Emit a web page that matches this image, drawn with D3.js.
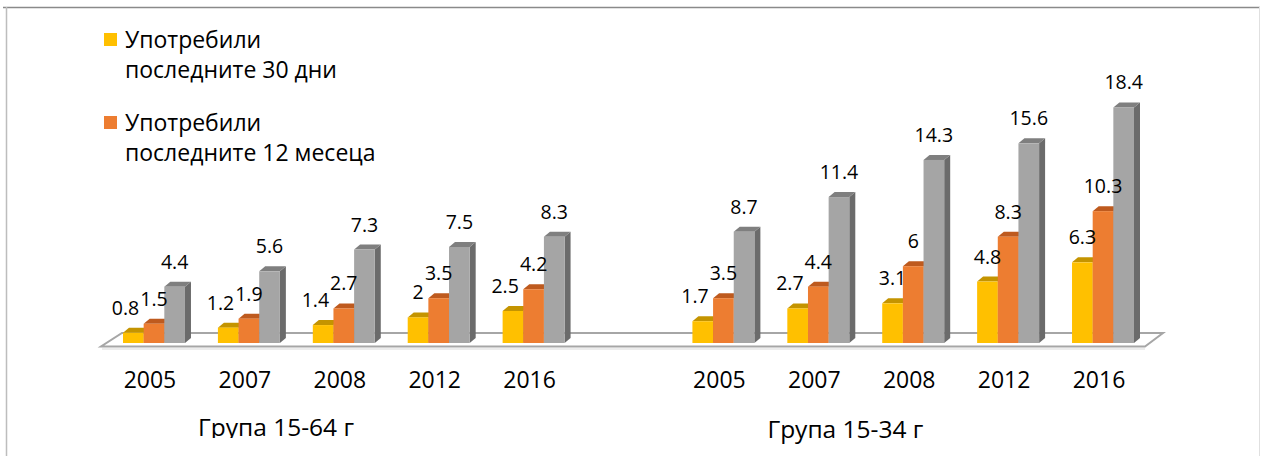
<!DOCTYPE html>
<html>
<head>
<meta charset="utf-8">
<script src="https://cdn.jsdelivr.net/npm/d3@7"></script>
<style>
  body { margin: 0; background: #fff; }
  text { font-family: 'Open Sans', 'Noto Sans', sans-serif; fill: #000; }
</style>
</head>
<body>
<div id="chart"></div>
<script>
// datos
var years = ['2005', '2007', '2008', '2012', '2016']
var groups = ['Група 15-64 г', 'Група 15-34 г']
var seriesNames = [
  ['Употребили', 'последните 30 дни'],
  ['Употребили', 'последните 12 месеца'],
  ['Употребили', 'някога'],
]
var last30days_1564 = [0.8, 1.2, 1.4, 2, 2.5]
var last12months_1564 = [1.5, 1.9, 2.7, 3.5, 4.2]
var lifetime_1564 = [4.4, 5.6, 7.3, 7.5, 8.3]
var last30days_1534 = [1.7, 2.7, 3.1, 4.8, 6.3]
var last12months_1534 = [3.5, 4.4, 6, 8.3, 10.3]
var lifetime_1534 = [8.7, 11.4, 14.3, 15.6, 18.4]

var colors = ['#FFC000', '#ED7D31', '#A5A5A5']
var topColors = ['#C49400', '#BE5A1E', '#7F7F7F']
var sideColors = ['#B38700', '#A84F1A', '#6B6B6B']

var width = 1261
var height = 456
var depthX = 6 // profundidad 3D
var depthY = 5

var svg = d3
  .select('#chart')
  .append('svg')
  .attr('width', width)
  .attr('height', height)

svg.append('rect').attr('width', width).attr('height', height).attr('fill', '#fff')

// marco
svg.append('line').attr('x1', 3).attr('x2', 1260).attr('y1', 7.5).attr('y2', 7.5)
  .attr('stroke', '#8a8a8a').attr('stroke-width', 1.5)
svg.append('line').attr('x1', 6.5).attr('x2', 6.5).attr('y1', 7).attr('y2', height)
  .attr('stroke', '#bdbdbd').attr('stroke-width', 1.5)
svg.append('line').attr('x1', 1259.5).attr('x2', 1259.5).attr('y1', 7).attr('y2', height)
  .attr('stroke', '#e0e0e0').attr('stroke-width', 1)

// tabla de barras
var rows = []
var seriesByGroup = [
  [last30days_1564, last12months_1564, lifetime_1564],
  [last30days_1534, last12months_1534, lifetime_1534],
]
var slots = []
groups.forEach(function (g, gi) {
  years.forEach(function (y, yi) {
    var key = gi + '-' + y
    slots.push(key)
    seriesByGroup[gi].forEach(function (vals, si) {
      rows.push({ key: key, year: y, group: gi, serie: si, value: vals[yi] })
    })
  })
  if (gi == 0) slots.push('hueco')
})

var x = d3
  .scaleBand()
  .domain(slots)
  .range([123, 1134])
  .paddingInner(0.347)
  .paddingOuter(0)

var xs = d3.scaleBand().domain([0, 1, 2]).range([0, x.bandwidth()])

var y = d3.scaleLinear().domain([0, 20]).range([343, 87])

// suelo
var floor = svg.append('g')
floor
  .append('path')
  .attr('d', 'M101,346.5 L1145,346.5 L1163,333 L122,333 Z')
  .attr('fill', '#fff')
  .attr('stroke', '#a6a6a6')
  .attr('stroke-width', 2)
floor
  .append('line')
  .attr('x1', 102).attr('x2', 1145).attr('y1', 349).attr('y2', 349)
  .attr('stroke', '#d9d9d9').attr('stroke-width', 1)

// barras 3D
var bars = svg
  .append('g')
  .selectAll('g')
  .data(rows)
  .enter()
  .append('g')

bars
  .append('path')
  .attr('fill', (d) => sideColors[d.serie])
  .attr('d', function (d) {
    var x1 = x(d.key) + xs(d.serie) + xs.bandwidth()
    var y0 = y(0)
    var y1 = y(d.value)
    return 'M' + x1 + ',' + y1 + ' L' + (x1 + depthX) + ',' + (y1 - depthY) +
      ' L' + (x1 + depthX) + ',' + (y0 - depthY) + ' L' + x1 + ',' + y0 + ' Z'
  })

bars
  .append('path')
  .attr('fill', (d) => topColors[d.serie])
  .attr('d', function (d) {
    var x0 = x(d.key) + xs(d.serie)
    var x1 = x0 + xs.bandwidth()
    var y1 = y(d.value)
    return 'M' + x0 + ',' + y1 + ' L' + (x0 + depthX) + ',' + (y1 - depthY) +
      ' L' + (x1 + depthX) + ',' + (y1 - depthY) + ' L' + x1 + ',' + y1 + ' Z'
  })

bars
  .append('rect')
  .attr('fill', (d) => colors[d.serie])
  .attr('x', (d) => x(d.key) + xs(d.serie))
  .attr('y', (d) => y(d.value))
  .attr('width', xs.bandwidth())
  .attr('height', (d) => y(0) - y(d.value))

// etiquetas de valores
var labels = svg
  .append('g')
  .selectAll('text')
  .data(rows)
  .enter()
  .append('text')
  .attr('x', (d) => x(d.key) + xs(d.serie) + xs.bandwidth() / 2)
  .attr('y', (d) => y(d.value) - 18)
  .attr('text-anchor', 'middle')
  .style('font-size', '19.5px')
  .text((d) => d.value)

// evitar que se pisen las etiquetas
labels.each(function (d) {
  d.box = this.getBBox()
})
labels.each(function (d) {
  if (d.serie != 0) return
  var next = rows.find((r) => r.key == d.key && r.serie == 1)
  var overlap = d.box.x + d.box.width + 1 - next.box.x
  if (overlap > 0 && Math.abs(d.box.y - next.box.y) < d.box.height) {
    d3.select(this).attr('x', +d3.select(this).attr('x') - overlap)
  }
})

// eje x: años
svg
  .append('g')
  .selectAll('text')
  .data(slots.filter((s) => s != 'hueco'))
  .enter()
  .append('text')
  .attr('x', (d) => x(d) + x.bandwidth() / 2 - 4)
  .attr('y', 388)
  .attr('text-anchor', 'middle')
  .style('font-size', '23px')
  .text((d) => d.split('-')[1])

// nombres de grupo
svg.append('clipPath').attr('id', 'corte')
  .append('rect').attr('x', 0).attr('y', 0).attr('width', width).attr('height', 438)

svg
  .append('g')
  .selectAll('text')
  .data(groups)
  .enter()
  .append('text')
  .attr('x', function (d, i) {
    var first = x(i + '-' + years[0])
    return first + 153
  })
  .attr('y', (d, i) => (i == 0 ? 435.5 : 437.5))
  .attr('clip-path', (d, i) => (i == 0 ? 'url(#corte)' : null))
  .attr('text-anchor', 'middle')
  .style('font-size', '24.5px')
  .text((d) => d)

// leyenda (solo las dos primeras series)
var legend = svg
  .append('g')
  .selectAll('g')
  .data(seriesNames.slice(0, 2))
  .enter()
  .append('g')
  .attr('transform', (d, i) => 'translate(104,' + (33 + i * 83) + ')')

legend
  .append('rect')
  .attr('width', 13)
  .attr('height', 13)
  .attr('fill', (d, i) => colors[i])

legend
  .append('text')
  .attr('x', 21)
  .attr('y', 15)
  .style('font-size', '23px')
  .text((d) => d[0])

legend
  .append('text')
  .attr('x', 21)
  .attr('y', 45)
  .style('font-size', '23px')
  .text((d) => d[1])
</script>
</body>
</html>
